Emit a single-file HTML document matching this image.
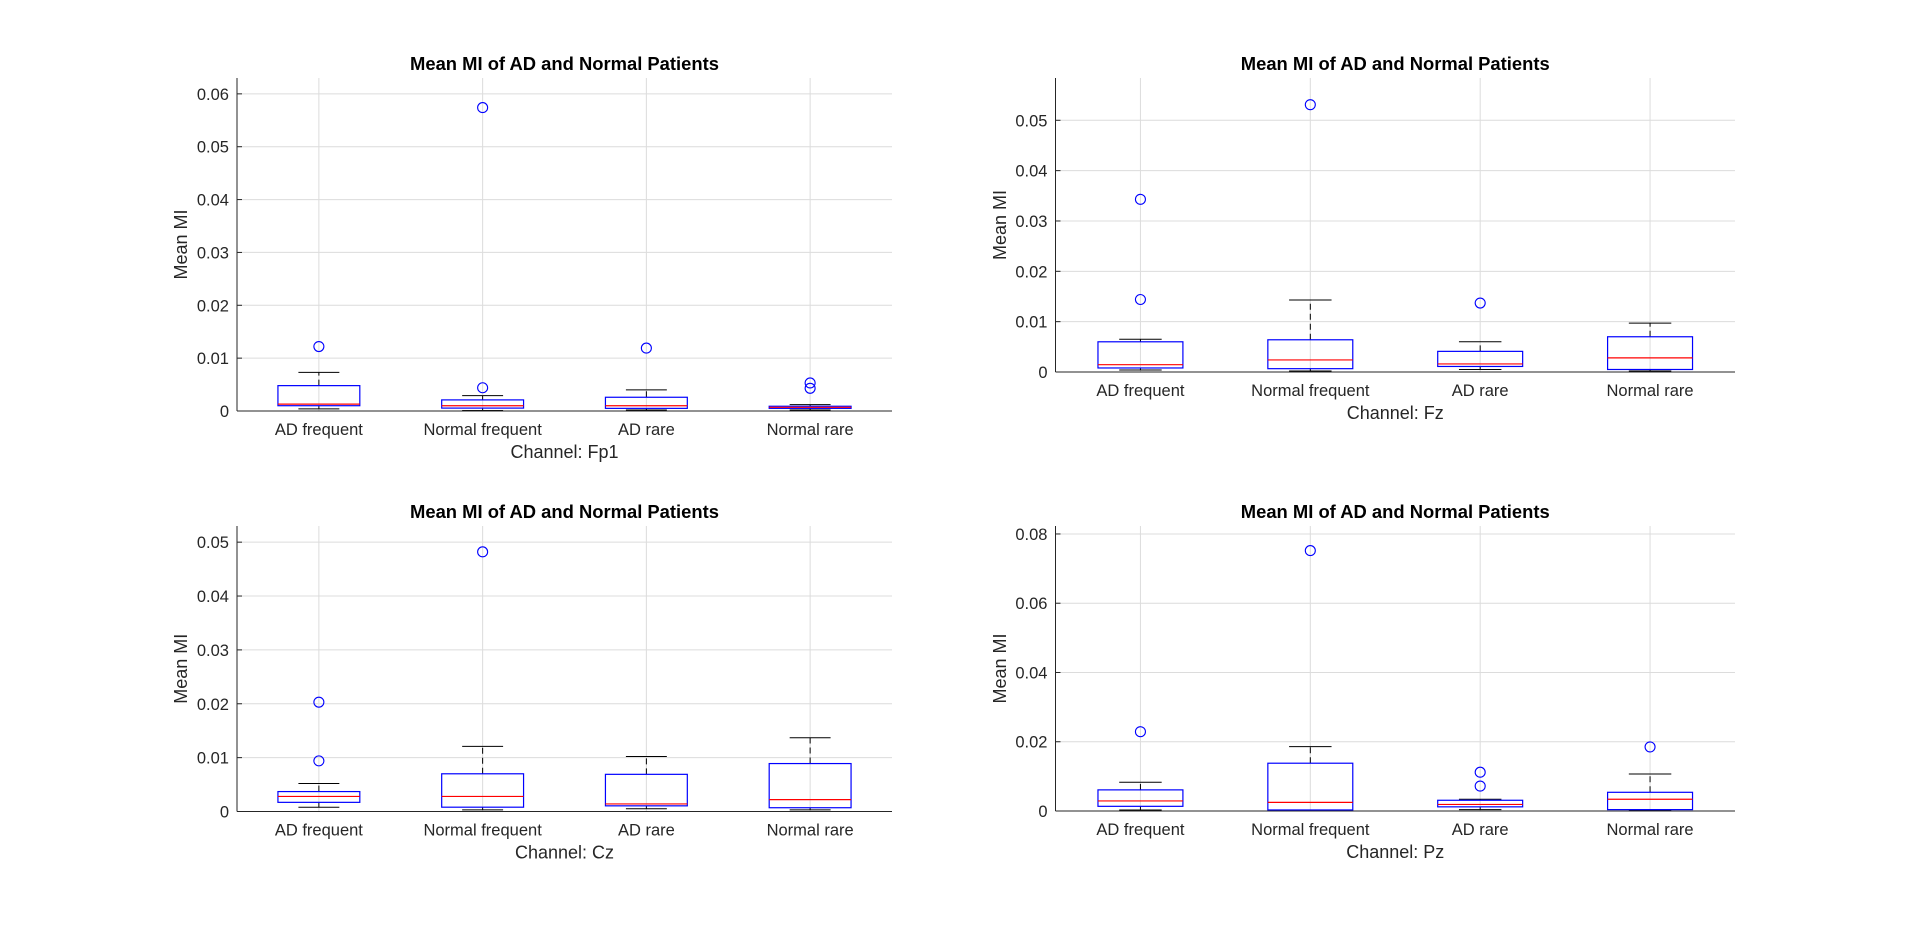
<!DOCTYPE html>
<html><head><meta charset="utf-8"><style>
body{margin:0;background:#fff;}
svg{display:block;font-family:"Liberation Sans",Arial,sans-serif;}
</style></head><body>
<svg id="fig" width="1920" height="926"></svg>
<script>
const categories = ["AD frequent","Normal frequent","AD rare","Normal rare"];
// Fp1
const fp1Q1 = [0.0010,0.00055,0.0005,0.0005];
const fp1Med = [0.0013,0.0010,0.0010,0.0007];
const fp1Q3 = [0.0048,0.0021,0.0026,0.0009];
const fp1Lo = [0.0004,0.0001,0.0002,0.0002];
const fp1Hi = [0.0073,0.0029,0.0040,0.0012];
const fp1Out = [[0.0122],[0.0044,0.0574],[0.0119],[0.0043,0.0053]];
const fp1Ticks = [0,0.01,0.02,0.03,0.04,0.05,0.06];
// Fz
const fzQ1 = [0.0008,0.00066,0.0011,0.0005];
const fzMed = [0.00145,0.0024,0.0016,0.0028];
const fzQ3 = [0.0060,0.0064,0.0041,0.0070];
const fzLo = [0.0004,0.0002,0.0005,0.0002];
const fzHi = [0.0065,0.0143,0.0060,0.0097];
const fzOut = [[0.0144,0.0343],[0.0531],[0.0137],[]];
const fzTicks = [0,0.01,0.02,0.03,0.04,0.05];
// Cz
const czQ1 = [0.0017,0.0008,0.00105,0.0007];
const czMed = [0.0028,0.0028,0.0014,0.0022];
const czQ3 = [0.0037,0.0070,0.0069,0.0089];
const czLo = [0.0008,0.0003,0.0005,0.0003];
const czHi = [0.0052,0.0121,0.0102,0.0137];
const czOut = [[0.0094,0.0203],[0.0482],[],[]];
const czTicks = [0,0.01,0.02,0.03,0.04,0.05];
// Pz
const pzQ1 = [0.00135,0.0003,0.0012,0.0004];
const pzMed = [0.0029,0.0025,0.0019,0.0034];
const pzQ3 = [0.0061,0.0138,0.0031,0.0054];
const pzLo = [0.0003,0.0001,0.0004,0.0002];
const pzHi = [0.0083,0.0186,0.0034,0.0107];
const pzOut = [[0.0229],[0.0752],[0.0072,0.0112],[0.0185]];
const pzTicks = [0,0.02,0.04,0.06,0.08];

const NS="http://www.w3.org/2000/svg";
const svg=document.getElementById('fig');
function el(tag,attrs,parent){const e=document.createElementNS(NS,tag);for(const k in attrs)e.setAttribute(k,attrs[k]);(parent||svg).appendChild(e);return e;}

function plot(cfg){
  const g=el('g',{});
  
  
  const L=cfg.left,R=cfg.right,T=cfg.top,B=cfg.bottom;
  const xs=v=>L+(v-0.5)/4*(R-L);
  const ys=v=>B-v/cfg.ymax*(B-T);
  cfg.ticks.forEach(t=>{
    const y=ys(t);
    const gl=el('line',{x1:L,x2:R,y1:y,y2:y,stroke:'#dcdcdc','stroke-width':1},g);
    
    
    el('line',{x1:L,x2:L+5,y1:y,y2:y,stroke:'#262626','stroke-width':1},g);
    const tl=el('text',{x:L-8,y:y+6,'text-anchor':'end','font-size':16.5,fill:'#262626'},g);
    tl.textContent=String(t);
    
    
  });
  categories.forEach((c,i)=>{
    const x=xs(i+1);
    const gl=el('line',{x1:x,x2:x,y1:T,y2:B,stroke:'#dcdcdc','stroke-width':1},g);
    
    
    const tl=el('text',{x:x,y:B+24,'text-anchor':'middle','font-size':16.5,fill:'#262626'},g);
    tl.textContent=c;
    
    
  });
  const unit=(R-L)/4;
  categories.forEach((c,i)=>{
    const x=xs(i+1),hw=unit*0.25,cw=unit*0.125;
    const bg=el('g',{},g);
    
    
    el('line',{x1:x,x2:x,y1:ys(cfg.q3[i]),y2:ys(cfg.hi[i]),stroke:'#000','stroke-width':1,'stroke-dasharray':'6,4'},bg);
    el('line',{x1:x,x2:x,y1:ys(cfg.q1[i]),y2:ys(cfg.lo[i]),stroke:'#000','stroke-width':1,'stroke-dasharray':'6,4'},bg);
    el('line',{x1:x-cw,x2:x+cw,y1:ys(cfg.hi[i]),y2:ys(cfg.hi[i]),stroke:'#000','stroke-width':1},bg);
    el('line',{x1:x-cw,x2:x+cw,y1:ys(cfg.lo[i]),y2:ys(cfg.lo[i]),stroke:'#000','stroke-width':1},bg);
    el('rect',{x:x-hw,y:ys(cfg.q3[i]),width:2*hw,height:Math.max(ys(cfg.q1[i])-ys(cfg.q3[i]),1),fill:'none',stroke:'#0000ff','stroke-width':1.2},bg);
    el('line',{x1:x-hw,x2:x+hw,y1:ys(cfg.med[i]),y2:ys(cfg.med[i]),stroke:'#ff0000','stroke-width':1.2},bg);
    cfg.out[i].forEach(o=>{
      const c=el('circle',{cx:x,cy:ys(o),r:5,fill:'none',stroke:'#0000ff','stroke-width':1.1},bg);
      
      
    });
  });
  el('line',{x1:L,x2:L,y1:T,y2:B,stroke:'#262626','stroke-width':1},g);
  el('line',{x1:L,x2:R,y1:B,y2:B,stroke:'#262626','stroke-width':1},g);
  const t=el('text',{x:(L+R)/2,y:T-8,'text-anchor':'middle','font-size':18.4,'font-weight':'bold',fill:'#000'},g);
  t.textContent='Mean MI of AD and Normal Patients';
  
  
  const xl=el('text',{x:(L+R)/2,y:B+47,'text-anchor':'middle','font-size':18,fill:'#262626'},g);
  xl.textContent='Channel: '+cfg.ch;
  
  
  const yx=cfg.ylx, yy=(T+B)/2;
  const yl=el('text',{x:yx,y:yy,'text-anchor':'middle','font-size':18,fill:'#262626',transform:`rotate(-90 ${yx} ${yy})`},g);
  yl.textContent='Mean MI';
  
  
}
plot({name:'plot-fp1',ch:'Fp1',left:237,right:892,top:78,bottom:411,ymax:0.063,ticks:fp1Ticks,q1:fp1Q1,med:fp1Med,q3:fp1Q3,lo:fp1Lo,hi:fp1Hi,out:fp1Out,ylx:187});
plot({name:'plot-fz',ch:'Fz',left:1055.5,right:1735,top:78,bottom:372,ymax:0.0584,ticks:fzTicks,q1:fzQ1,med:fzMed,q3:fzQ3,lo:fzLo,hi:fzHi,out:fzOut,ylx:1006});
plot({name:'plot-cz',ch:'Cz',left:237,right:892,top:526,bottom:811.5,ymax:0.053,ticks:czTicks,q1:czQ1,med:czMed,q3:czQ3,lo:czLo,hi:czHi,out:czOut,ylx:187});
plot({name:'plot-pz',ch:'Pz',left:1055.5,right:1735,top:526,bottom:811,ymax:0.0823,ticks:pzTicks,q1:pzQ1,med:pzMed,q3:pzQ3,lo:pzLo,hi:pzHi,out:pzOut,ylx:1006});
</script>
</body></html>
